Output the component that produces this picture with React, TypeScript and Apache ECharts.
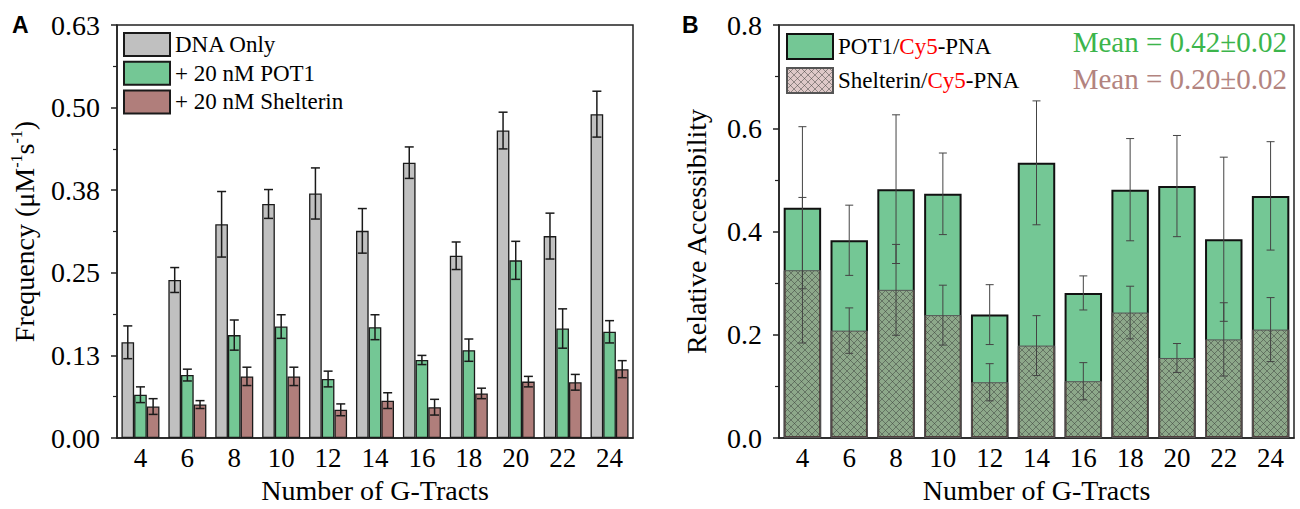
import React, { useEffect, useRef } from 'react';
import * as echarts from 'echarts';

const categories = ['4', '6', '8', '10', '12', '14', '16', '18', '20', '22', '24'];

// Panel A
const dnaOnly = [0.146, 0.241, 0.326, 0.357, 0.373, 0.316, 0.420, 0.278, 0.469, 0.308, 0.494];
const dnaOnlyErr = [0.025, 0.019, 0.050, 0.022, 0.039, 0.034, 0.024, 0.021, 0.028, 0.035, 0.035];
const pot1 = [0.066, 0.096, 0.157, 0.170, 0.090, 0.169, 0.119, 0.134, 0.271, 0.167, 0.162];
const pot1Err = [0.012, 0.009, 0.023, 0.018, 0.012, 0.019, 0.007, 0.017, 0.029, 0.030, 0.017];
const shelterin = [0.048, 0.051, 0.094, 0.094, 0.043, 0.057, 0.047, 0.068, 0.086, 0.085, 0.105];
const shelterinErr = [0.012, 0.006, 0.014, 0.014, 0.009, 0.012, 0.012, 0.008, 0.008, 0.012, 0.013];

// Panel B
const pot1Access = [0.446, 0.383, 0.482, 0.473, 0.239, 0.533, 0.281, 0.481, 0.488, 0.385, 0.469];
const pot1AccessErr = [0.157, 0.068, 0.144, 0.079, 0.058, 0.120, 0.033, 0.099, 0.098, 0.159, 0.105];
const shelAccess = [0.325, 0.208, 0.287, 0.238, 0.108, 0.179, 0.110, 0.243, 0.155, 0.191, 0.210];
const shelAccessErr = [0.141, 0.044, 0.088, 0.058, 0.036, 0.058, 0.036, 0.051, 0.028, 0.071, 0.062];

const meanTexts = ['Mean = 0.42\u00B10.02', 'Mean = 0.20\u00B10.02'];

const SERIF = '"Liberation Serif", "Times New Roman", serif';
const GREY = '#c0c0c0';
const GREEN = '#74c795';
const BROWN = '#b07e7b';

function makeHatch(): HTMLCanvasElement {
  const s = 7;
  const c = document.createElement('canvas');
  c.width = s;
  c.height = s;
  const ctx = c.getContext('2d')!;
  ctx.fillStyle = 'rgba(176,126,123,0.42)';
  ctx.fillRect(0, 0, s, s);
  ctx.strokeStyle = 'rgba(55,60,55,0.6)';
  ctx.lineWidth = 0.8;
  ctx.beginPath();
  ctx.moveTo(0, 0);
  ctx.lineTo(s, s);
  ctx.moveTo(s, 0);
  ctx.lineTo(0, s);
  ctx.stroke();
  return c;
}

function errorSeries(
  name: string,
  values: number[],
  errs: number[],
  axisIndex: number,
  offsetFrac: number,
  capHalf: number,
  lineWidth: number,
  color: string
) {
  return {
    type: 'custom',
    name,
    xAxisIndex: axisIndex,
    yAxisIndex: axisIndex,
    z: 10,
    data: values.map((v, i) => [i, v, errs[i]]),
    encode: { x: 0, y: 1 },
    renderItem: (_params: any, api: any) => {
      const i = api.value(0);
      const v = api.value(1);
      const e = api.value(2);
      const hi = api.coord([i, v + e]);
      const lo = api.coord([i, v - e]);
      const w = api.size([1, 0])[0];
      const x = hi[0] + offsetFrac * w;
      const style = { stroke: color, lineWidth };
      return {
        type: 'group',
        children: [
          { type: 'line', shape: { x1: x, y1: hi[1], x2: x, y2: lo[1] }, style },
          { type: 'line', shape: { x1: x - capHalf, y1: hi[1], x2: x + capHalf, y2: hi[1] }, style },
          { type: 'line', shape: { x1: x - capHalf, y1: lo[1], x2: x + capHalf, y2: lo[1] }, style },
        ],
      };
    },
  };
}

export default function App() {
  const ref = useRef<HTMLDivElement>(null);

  useEffect(() => {
    if (!ref.current) return;
    const chart = echarts.init(ref.current, undefined, { renderer: 'svg' });
    const hatch = makeHatch();
    const hatchFill: any = { image: hatch, repeat: 'repeat', imageWidth: 7, imageHeight: 7 };

    const xAxisBase = (gridIndex: number) => ({
      type: 'category',
      gridIndex,
      data: categories,
      name: 'Number of G-Tracts',
      nameLocation: 'middle',
      nameGap: 38,
      nameTextStyle: { fontFamily: SERIF, fontSize: 28, color: '#000' },
      axisLine: { lineStyle: { color: '#222', width: 1.5 } },
      axisTick: { alignWithLabel: true, length: 5, lineStyle: { color: '#222', width: 1.5 } },
      axisLabel: { fontFamily: SERIF, fontSize: 27, color: '#000', margin: 6 },
      splitLine: { show: false },
    });

    const option: any = {
      animation: false,
      backgroundColor: '#fff',
      grid: [
        { left: 117, top: 25, width: 516, height: 417, show: true, borderColor: '#222', borderWidth: 1.5 },
        { left: 779, top: 25, width: 515, height: 417, show: true, borderColor: '#222', borderWidth: 1.5 },
      ],
      xAxis: [xAxisBase(0), xAxisBase(1)],
      yAxis: [
        {
          type: 'value',
          gridIndex: 0,
          min: 0,
          max: 0.63,
          interval: 0.126,
          name: '{n|Frequency (\u03BCM}{s|-1}{n|s}{s|-1}{n|)}',
          nameLocation: 'middle',
          nameGap: 77,
          nameTextStyle: {
            fontFamily: SERIF,
            color: '#000',
            rich: {
              n: { fontFamily: SERIF, fontSize: 28, color: '#000', lineHeight: 32 },
              s: { fontFamily: SERIF, fontSize: 16, color: '#000', lineHeight: 16, verticalAlign: 'top' },
            },
          },
          axisLine: { show: true, lineStyle: { color: '#222', width: 1.5 } },
          axisTick: { show: true, length: 6, lineStyle: { color: '#222', width: 1.5 } },
          minorTick: { show: true, splitNumber: 2, length: 4, lineStyle: { color: '#222', width: 1.2 } },
          axisLabel: {
            fontFamily: SERIF,
            fontSize: 28,
            color: '#000',
            margin: 17,
            formatter: (v: number) => v.toFixed(2),
          },
          splitLine: { show: false },
        },
        {
          type: 'value',
          gridIndex: 1,
          min: 0,
          max: 0.8,
          interval: 0.2,
          name: 'Relative Accessibility',
          nameLocation: 'middle',
          nameGap: 69,
          nameTextStyle: { fontFamily: SERIF, fontSize: 28, color: '#000' },
          axisLine: { show: true, lineStyle: { color: '#222', width: 1.5 } },
          axisTick: { show: true, length: 6, lineStyle: { color: '#222', width: 1.5 } },
          minorTick: { show: true, splitNumber: 2, length: 4, lineStyle: { color: '#222', width: 1.2 } },
          axisLabel: {
            fontFamily: SERIF,
            fontSize: 28,
            color: '#000',
            margin: 17,
            formatter: (v: number) => v.toFixed(1),
          },
          splitLine: { show: false },
        },
      ],
      legend: [
        {
          orient: 'vertical',
          left: 123,
          top: 32,
          padding: 0,
          itemWidth: 46,
          itemHeight: 23,
          itemGap: 3.7,
          icon: 'rect',
          selectedMode: false,
          data: ['DNA Only', '+ 20 nM POT1', '+ 20 nM Shelterin'],
          textStyle: { fontFamily: SERIF, fontSize: 23, color: '#000' },
        },
        {
          orient: 'vertical',
          left: 786,
          top: 33,
          padding: 0,
          itemWidth: 46,
          itemHeight: 25,
          itemGap: 7,
          icon: 'rect',
          selectedMode: false,
          data: ['POT1/Cy5-PNA', 'Shelterin/Cy5-PNA'],
          formatter: (name: string) => {
            const parts = name.split('Cy5');
            return '{t|' + parts[0] + '}{r|Cy5}{t|' + parts[1] + '}';
          },
          textStyle: {
            fontFamily: SERIF,
            fontSize: 23,
            color: '#000',
            rich: {
              t: { fontFamily: SERIF, fontSize: 23, color: '#000' },
              r: { fontFamily: SERIF, fontSize: 23, color: '#ff0000' },
            },
          },
        },
      ],
      graphic: [
        {
          type: 'text',
          left: 12,
          top: 13,
          style: { text: 'A', fontFamily: '"Liberation Sans", Arial, sans-serif', fontWeight: 'bold', fontSize: 23, fill: '#000' },
        },
        {
          type: 'text',
          left: 682,
          top: 13,
          style: { text: 'B', fontFamily: '"Liberation Sans", Arial, sans-serif', fontWeight: 'bold', fontSize: 23, fill: '#000' },
        },
        {
          type: 'text',
          x: 1287,
          y: 42,
          style: { text: meanTexts[0], fontFamily: SERIF, fontSize: 29, fill: '#3cb54b', align: 'right', verticalAlign: 'middle' },
        },
        {
          type: 'text',
          x: 1287,
          y: 79,
          style: { text: meanTexts[1], fontFamily: SERIF, fontSize: 29, fill: '#b3847f', align: 'right', verticalAlign: 'middle' },
        },
      ],
      series: [
        {
          type: 'bar',
          name: 'DNA Only',
          xAxisIndex: 0,
          yAxisIndex: 0,
          data: dnaOnly,
          barWidth: '27%',
          barGap: '0%',
          itemStyle: { color: GREY, borderColor: '#1a1a1a', borderWidth: 1.3 },
        },
        {
          type: 'bar',
          name: '+ 20 nM POT1',
          xAxisIndex: 0,
          yAxisIndex: 0,
          data: pot1,
          barWidth: '27%',
          barGap: '0%',
          itemStyle: { color: GREEN, borderColor: '#1a1a1a', borderWidth: 1.3 },
        },
        {
          type: 'bar',
          name: '+ 20 nM Shelterin',
          xAxisIndex: 0,
          yAxisIndex: 0,
          data: shelterin,
          barWidth: '27%',
          barGap: '0%',
          itemStyle: { color: BROWN, borderColor: '#1a1a1a', borderWidth: 1.3 },
        },
        errorSeries('errA1', dnaOnly, dnaOnlyErr, 0, -0.27, 4.5, 1.5, '#1a1a1a'),
        errorSeries('errA2', pot1, pot1Err, 0, 0, 4.5, 1.5, '#1a1a1a'),
        errorSeries('errA3', shelterin, shelterinErr, 0, 0.27, 4.5, 1.5, '#1a1a1a'),
        {
          type: 'bar',
          name: 'POT1/Cy5-PNA',
          xAxisIndex: 1,
          yAxisIndex: 1,
          data: pot1Access,
          barWidth: '80%',
          barGap: '-100%',
          itemStyle: { color: GREEN, borderColor: '#111', borderWidth: 2 },
        },
        {
          type: 'bar',
          name: 'Shelterin/Cy5-PNA',
          xAxisIndex: 1,
          yAxisIndex: 1,
          data: shelAccess,
          barWidth: '80%',
          barGap: '-100%',
          itemStyle: { color: hatchFill, borderColor: '#555', borderWidth: 1 },
        },
        errorSeries('errB1', pot1Access, pot1AccessErr, 1, 0, 4, 1, '#444'),
        errorSeries('errB2', shelAccess, shelAccessErr, 1, 0, 4, 1, '#444'),
      ],
    };

    chart.setOption(option);
    return () => chart.dispose();
  }, []);

  return (
    <div
      ref={ref}
      style={{ position: 'fixed', left: 0, top: 0, width: 1300, height: 509, background: '#fff' }}
    />
  );
}
